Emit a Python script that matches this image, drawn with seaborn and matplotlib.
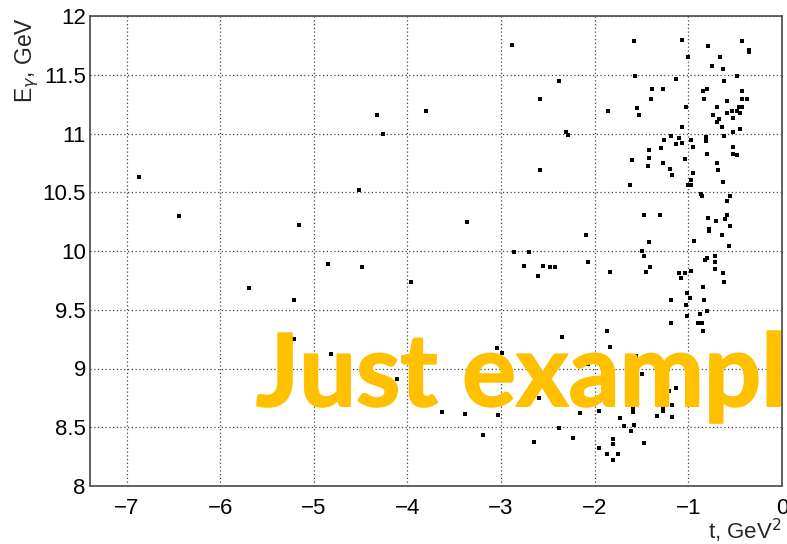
import matplotlib
matplotlib.use("Agg")
import matplotlib.pyplot as plt
import matplotlib.patheffects as pe
from matplotlib.ticker import MultipleLocator
import seaborn as sns
import pandas as pd

# Momentum transfer t (GeV^2) and photon energy E_gamma (GeV) per event
t_vals = [
    -6.865, -6.44, -5.16, -4.513, -4.33, -4.265, -3.80, -3.365,
    -5.69, -5.21, -5.21, -4.845, -4.486, -3.96, -4.82, -4.115, -3.73, -3.63, -3.39,
    -3.19, -3.045, -2.99, -3.035, -2.65, -2.60, -2.65, -2.607, -2.35, -2.37, -2.38, -2.23, -2.16, -2.07,
    -1.95, -1.73, -1.69, -1.80, -1.80, -1.95, -1.87, -1.75, -1.80, -1.87, -1.84,
    -1.605, -1.56, -1.49, -1.59, -1.59, -1.58, -1.61, -1.47, -1.34, -1.27, -1.27, -1.18, -1.18,
    -1.21, -1.13, -1.22, -1.19, -1.19, -1.10, -1.077, -1.017, -0.985, -1.02, -1.01, -0.88,
    -0.895, -0.853, -0.842, -0.828, -0.842, -0.80, -0.967, -0.633, -0.615,
    -2.888, -2.386, -2.586, -1.86, -2.31, -2.29, -2.586,
    -1.583, -1.565, -1.383, -1.266, -1.397, -1.545, -1.53, -1.137, -1.067, -1.0, -1.028,
    -1.067, -1.188, -1.10, -1.136, -1.067, -1.262, -1.29, -1.423, -1.423, -1.607, -1.436,
    -1.276, -1.194, -1.18, -1.62, -1.038, -0.977, -0.949, -0.949, -0.974, -1.0, -0.967,
    -0.868, -0.853, -0.81, -0.81, -0.796, -0.697, -0.686, -0.633, -0.55, -0.59, -0.526,
    -0.526, -0.483, -0.615, -0.526, -0.447, -0.643, -0.67, -0.69, -0.732, -0.697, -0.59,
    -0.537, -0.483, -0.455, -0.43, -0.447, -0.526, -0.59, -0.83, -0.842, -0.804, -0.43,
    -0.43, -0.377, -0.615, -0.483, -0.75, -0.633, -0.657, -0.789, -0.43, -0.355, -0.355,
    -0.789, -0.708, -0.604, -0.59, -0.775, -0.775, -0.55, -0.643, -0.935, -0.565,
    -1.476, -1.305, -1.423, -1.493, -1.476, -1.408, -1.45, -1.835, -2.095, -2.07,
    -2.86, -2.706, -2.76, -2.557, -2.48, -2.42, -0.82, -0.804, -0.72, -0.72, -0.72, -1.038,
]
e_gamma = [
    10.633, 10.30, 10.22, 10.517, 11.16, 11.00, 11.19, 10.25,
    9.684, 9.58, 9.25, 9.893, 9.862, 9.737, 9.125, 8.912, 8.734, 8.63, 8.61,
    8.43, 9.176, 9.13, 8.606, 8.776, 8.753, 8.374, 9.79, 9.27, 8.765, 8.49, 8.405, 8.62, 9.04,
    8.64, 8.575, 8.51, 8.40, 8.354, 8.325, 8.27, 8.27, 8.22, 9.315, 9.18,
    9.0, 9.108, 8.955, 8.655, 8.627, 8.52, 8.47, 8.366, 8.598, 8.668, 8.64, 8.69, 8.59,
    8.81, 8.83, 9.0, 9.39, 9.58, 9.817, 9.77, 9.64, 9.60, 9.54, 9.45, 9.46,
    9.39, 9.39, 9.315, 9.587, 9.695, 9.493, 9.83, 9.81, 9.735,
    11.75, 11.444, 11.296, 11.19, 11.013, 10.985, 10.687,
    11.784, 11.486, 11.381, 11.381, 11.296, 11.214, 11.16, 11.466, 11.795, 11.648, 11.225,
    11.055, 10.979, 10.962, 10.908, 10.922, 10.942, 10.877, 10.857, 10.794, 10.772, 10.721,
    10.752, 10.698, 10.645, 10.56, 10.78, 10.945, 10.888, 10.667, 10.605, 10.56, 10.56,
    10.485, 10.466, 10.97, 10.94, 10.826, 10.75, 10.687, 10.59, 10.466, 10.424, 10.888,
    10.826, 10.815, 10.979, 11.01, 11.036, 11.055, 11.12, 11.098, 11.16, 11.223, 11.172,
    11.192, 11.192, 11.223, 11.223, 11.172, 11.129, 11.276, 11.296, 11.364, 11.381, 11.364,
    11.296, 11.296, 11.444, 11.486, 11.571, 11.551, 11.648, 11.741, 11.784, 11.71, 11.696,
    10.284, 10.256, 10.276, 10.307, 10.19, 10.171, 10.213, 10.14, 10.086, 10.043,
    10.304, 10.304, 10.075, 10.0, 9.958, 9.865, 9.822, 9.822, 10.137, 9.907,
    9.99, 9.99, 9.876, 9.876, 9.865, 9.865, 9.92, 9.94, 9.958, 9.907, 9.845, 9.811,
]

x_ticks = [-7, -6, -5, -4, -3, -2, -1, 0]
y_ticks = [8, 8.5, 9, 9.5, 10, 10.5, 11, 11.5, 12]
y_tick_labels = ["8", "8.5", "9", "9.5", "10", "10.5", "11", "11.5", "12"]

events = pd.DataFrame({"t": t_vals, "E": e_gamma})

sns.set_style("white")
plt.rcParams["font.family"] = ["Liberation Sans", "DejaVu Sans"]
plt.rcParams["axes.unicode_minus"] = True

fig = plt.figure(figsize=(7.87, 5.44), dpi=100)
ax = fig.add_axes([90 / 787, 1 - 486 / 544, (782 - 90) / 787, (486 - 16) / 544])

sns.scatterplot(data=events, x="t", y="E", ax=ax, marker="s", s=12,
                color="black", edgecolor="black", linewidth=0, zorder=3)

ax.set_xlim(-7.39, 0)
ax.set_ylim(8, 12)
ax.set_xticks(x_ticks)
ax.set_yticks(y_ticks)
ax.set_yticklabels(y_tick_labels)
ax.xaxis.set_minor_locator(MultipleLocator(0.2))
ax.yaxis.set_minor_locator(MultipleLocator(0.1))

ax.grid(True, which="major", linestyle=(0, (1, 2)), color="#444444", linewidth=0.9)
ax.set_axisbelow(True)

for side in ax.spines.values():
    side.set_color("#555555")
    side.set_linewidth(1.3)

ax.tick_params(axis="both", which="both", direction="in", colors="#333333",
               labelcolor="black", labelsize=16, width=1.1)
ax.tick_params(axis="x", which="major", length=9.5, pad=9)
ax.tick_params(axis="x", which="minor", length=5)
ax.tick_params(axis="y", which="major", length=14.5, pad=3)
ax.tick_params(axis="y", which="minor", length=8)
ax.set_xlabel("")
ax.set_ylabel("")

fig.text(27 / 787, 1 - 17 / 544, r"E$_{\gamma}$, GeV", rotation=90,
         ha="center", va="top", fontsize=16.5)
fig.text(782 / 787, 1 - 539 / 544, r"t, GeV$^{2}$", ha="right",
         va="baseline", fontsize=16)

gold = "#FFC000"
fig.text(256 / 787, 1 - 406 / 544, "Just example", color=gold,
         fontsize=72.5, fontweight="bold", family=["Lato", "DejaVu Sans"],
         ha="left", va="baseline", zorder=10,
         path_effects=[pe.withStroke(linewidth=1.4, foreground=gold)])

fig.savefig("out.png", dpi=100)
